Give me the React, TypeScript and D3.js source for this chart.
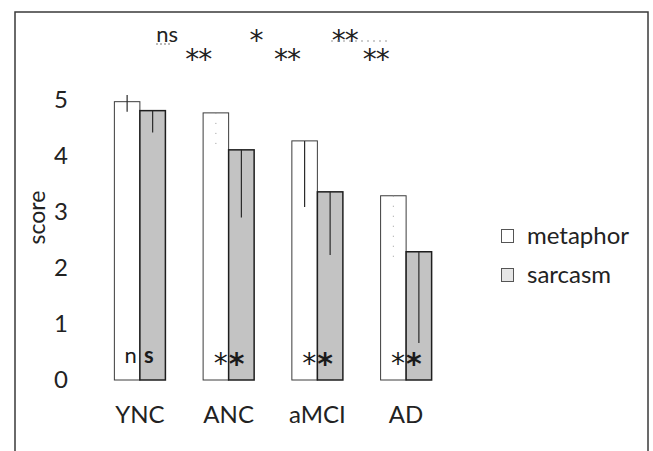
import * as d3 from "d3";

const categories = ["YNC", "ANC", "aMCI", "AD"];
const seriesNames = ["metaphor", "sarcasm"];
const metaphorValues = [4.97, 4.77, 4.27, 3.29];
const sarcasmValues = [4.81, 4.11, 3.36, 2.29];
// error bars: downward part (drawn inside the bar) and the visible upward part
const metaphorErrDown = [0.18, 0.66, 1.18, 1.2];
const metaphorErrUp = [0.12, 0, 0, 0];
const metaphorErrFaint = [false, true, false, true];
const sarcasmErrDown = [0.39, 1.21, 1.13, 1.63];
const sarcasmErrUp = [0, 0, 0, 0];
const sarcasmErrFaint = [false, false, false, false];
// metaphor vs sarcasm inside each group: [left char, right char]
const withinMarks = [
  ["n", "s"],
  ["*", "*"],
  ["*", "*"],
  ["*", "*"],
];
// comparisons between neighbouring groups (upper row: metaphor, lower row: sarcasm)
const upperMarks = ["ns", "*", "**"];
const lowerMarks = ["**", "**", "**"];
const yTicks = [0, 1, 2, 3, 4, 5];

const width = 653;
const height = 451;
const font = "Lato, 'Open Sans', sans-serif";
const starFont = "'DejaVu Sans', sans-serif";

export default function App() {
  const y = d3.scaleLinear().domain([0, 5]).range([380, 100]);
  const x = d3
    .scaleBand()
    .domain(categories)
    .range([70, 476])
    .paddingInner(0.425)
    .paddingOuter(0.5);
  const x1 = d3.scaleBand().domain(seriesNames).range([0, x.bandwidth()]);
  const color = d3.scaleOrdinal<string>().domain(seriesNames).range(["#ffffff", "#c3c3c3"]);

  const rows = categories.map((c, i) => ({
    cat: c,
    bars: [
      {
        key: "metaphor",
        value: metaphorValues[i],
        down: metaphorErrDown[i],
        up: metaphorErrUp[i],
        faint: metaphorErrFaint[i],
      },
      {
        key: "sarcasm",
        value: sarcasmValues[i],
        down: sarcasmErrDown[i],
        up: sarcasmErrUp[i],
        faint: sarcasmErrFaint[i],
      },
    ],
  }));

  const center = (c: string) => (x(c) ?? 0) + x.bandwidth() / 2;
  const mids = categories.slice(1).map((c, i) => (center(categories[i]) + center(c)) / 2);
  const isStar = (s: string) => s.startsWith("*");

  return (
    <svg
      width={width}
      height={height}
      style={{ position: "absolute", left: 0, top: 0, background: "#fff" }}
    >
      <rect x={15} y={12} width={633} height={460} fill="none" stroke="#3a3a3a" strokeWidth={1.5} />

      {/* y tick labels */}
      {yTicks.map((t) => (
        <text
          key={t}
          x={61}
          y={y(t)}
          dy="0.34em"
          textAnchor="middle"
          fontFamily={font}
          fontSize={24}
          fill="#222"
        >
          {t}
        </text>
      ))}
      <text
        transform={`translate(45, ${y(2.9)}) rotate(-90)`}
        textAnchor="middle"
        fontFamily={font}
        fontSize={23}
        fill="#222"
      >
        score
      </text>

      {/* bars */}
      {rows.map((r) => (
        <g key={r.cat} transform={`translate(${x(r.cat)}, 0)`}>
          {r.bars.map((b) => {
            const bx = x1(b.key) ?? 0;
            const cx = bx + x1.bandwidth() / 2;
            return (
              <g key={b.key}>
                <rect
                  x={bx}
                  y={y(b.value)}
                  width={x1.bandwidth()}
                  height={y(0) - y(b.value)}
                  fill={color(b.key)}
                  stroke={b.key === "sarcasm" ? "#1e1e1e" : "#3c3c3c"}
                  strokeWidth={b.key === "sarcasm" ? 1.5 : 1}
                />
                <line
                  x1={cx}
                  x2={cx}
                  y1={y(b.value + b.up)}
                  y2={y(b.value - b.down)}
                  stroke={b.faint ? "#9a9a9a" : "#2a2a2a"}
                  strokeWidth={b.faint ? 1 : 1.2}
                  strokeDasharray={b.faint ? "1 9" : undefined}
                />
              </g>
            );
          })}
        </g>
      ))}

      {/* marks inside the bars: left char in metaphor bar, right char in sarcasm bar */}
      {categories.map((c, i) => {
        const [a, b] = withinMarks[i];
        const star = isStar(a);
        return (
          <g key={c} fill="#1a1a1a">
            <text
              x={center(c) - (star ? 1 : 3)}
              y={star ? 373 : 363}
              textAnchor="end"
              fontFamily={star ? starFont : font}
              fontSize={star ? 28 : 22}
            >
              {a}
            </text>
            <text
              x={center(c) + (star ? 0 : 4)}
              y={star ? 374 : 363}
              textAnchor="start"
              fontFamily={star ? starFont : font}
              fontSize={star ? 30 : 22}
              fontWeight={700}
            >
              {b}
            </text>
          </g>
        );
      })}

      {/* category labels */}
      {categories.map((c) => (
        <text
          key={c}
          x={center(c)}
          y={423}
          textAnchor="middle"
          fontFamily={font}
          fontSize={24}
          fill="#222"
        >
          {c}
        </text>
      ))}

      {/* comparison marks above */}
      {mids.map((m, i) => (
        <g key={i} fill="#222">
          <text
            x={m - 17}
            y={isStar(upperMarks[i]) ? 50 : 42}
            textAnchor="middle"
            fontFamily={isStar(upperMarks[i]) ? starFont : font}
            fontSize={isStar(upperMarks[i]) ? 28 : 22}
            letterSpacing={isStar(upperMarks[i]) ? -1 : 0}
          >
            {upperMarks[i]}
          </text>
          <text
            x={m + 14}
            y={69}
            textAnchor="middle"
            fontFamily={starFont}
            fontSize={28}
            letterSpacing={-1}
          >
            {lowerMarks[i]}
          </text>
        </g>
      ))}
      <line x1={156} x2={170} y1={44} y2={44} stroke="#777" strokeDasharray="2 2" />
      <line x1={331} x2={391} y1={41} y2={41} stroke="#999" strokeDasharray="2 4" />

      {/* legend */}
      {seriesNames.map((s, i) => (
        <g key={s} transform={`translate(501, ${229 + i * 39})`}>
          <rect
            x={0.5}
            y={0.5}
            width={12}
            height={13}
            fill={i === 0 ? "#fff" : "#e6e6e6"}
            stroke="#555"
            strokeWidth={1}
          />
          <text x={26} y={6} dy="0.36em" fontFamily={font} fontSize={24} fill="#222">
            {s}
          </text>
        </g>
      ))}
    </svg>
  );
}
